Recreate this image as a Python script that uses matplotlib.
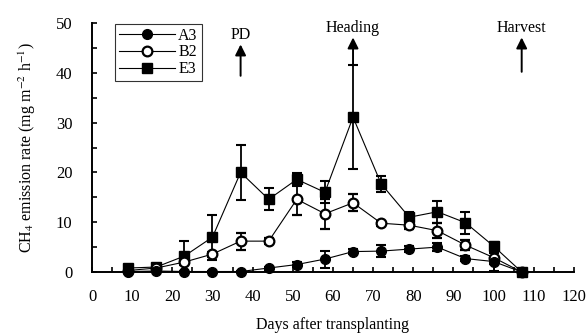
import matplotlib
matplotlib.use("Agg")
import matplotlib.pyplot as plt
from matplotlib.ticker import MultipleLocator
from matplotlib.lines import Line2D

days = [9, 16, 23, 30, 37, 44, 51, 58, 65, 72, 79, 86, 93, 100, 107]
a3 = [0.1, 0.2, 0.1, 0.1, 0.1, 0.8, 1.5, 2.6, 4.1, 4.2, 4.6, 5.0, 2.7, 2.1, 0.0]
a3_err = [0.1, 0.1, 0.1, 0.1, 0.1, 0.3, 0.5, 1.7, 0.5, 1.2, 0.6, 0.8, 0.5, 1.8, 0.0]
b2 = [0.3, 0.8, 2.0, 3.6, 6.2, 6.2, 14.6, 11.7, 13.9, 9.8, 9.4, 8.3, 5.4, 2.9, 0.0]
b2_err = [0.2, 0.2, 0.5, 0.5, 1.7, 0.6, 3.2, 3.0, 1.7, 0.5, 0.8, 1.5, 1.0, 1.2, 0.0]
e3 = [0.8, 1.0, 3.2, 7.0, 20.0, 14.6, 18.6, 16.0, 31.1, 17.7, 11.0, 12.1, 9.9, 5.2, 0.0]
e3_err = [0.3, 0.3, 3.0, 4.5, 5.6, 2.2, 1.3, 2.2, 10.5, 1.6, 1.0, 2.2, 2.2, 0.8, 0.0]

events = ["PD", "Heading", "Harvest"]
event_days = [37, 65, 107]
event_tail = [39.4, 41.5, 40.2]
event_head = [45.7, 47.1, 47.1]

plt.rcParams['font.family'] = ['Liberation Serif', 'DejaVu Serif']
plt.rcParams['mathtext.fontset'] = 'stix'
FS = 11.5

fig = plt.figure(figsize=(5.88, 3.34), dpi=100)
ax = fig.add_axes([0.1565, 0.1856, 0.8195, 0.7455])

common = dict(color='black', lw=0.8, elinewidth=1.3, capsize=3.5, capthick=1.5,
              clip_on=False, markersize=7)
ax.errorbar(days, e3, yerr=e3_err, fmt='-s', mfc='black', mec='black', **common)
ax.errorbar(days, b2, yerr=b2_err, fmt='-o', mfc='white', mec='black', mew=1.6, **common)
ax.errorbar(days, a3, yerr=a3_err, fmt='-o', mfc='black', mec='black', **common)

for lab, d, t, h in zip(events, event_days, event_tail, event_head):
    ax.annotate('', xy=(d, h), xytext=(d, t),
                arrowprops=dict(arrowstyle='-|>', lw=1.4, color='black',
                                mutation_scale=16, shrinkA=0, shrinkB=0),
                annotation_clip=False)
    ax.text(d, h + 0.3, lab, ha='center', va='bottom', fontsize=FS)

ax.set_xlim(0, 120)
ax.set_ylim(0, 50)
ax.xaxis.set_major_locator(MultipleLocator(10))
ax.xaxis.set_minor_locator(MultipleLocator(5))
ax.yaxis.set_major_locator(MultipleLocator(10))
ax.yaxis.set_minor_locator(MultipleLocator(5))
ax.tick_params(which='both', direction='in', length=3.5, width=1.2, labelsize=12)
ax.tick_params(axis='x', pad=12)
ax.tick_params(axis='y', pad=14)
for s in ['top', 'right']:
    ax.spines[s].set_visible(False)
for s in ['left', 'bottom']:
    ax.spines[s].set_linewidth(1.4)

ax.set_xlabel('Days after transplanting', fontsize=FS, labelpad=9)
ax.set_ylabel(r'CH$_4$ emission rate (mg m$^{-2}$ h$^{-1}$)', fontsize=FS, labelpad=13)

handles = [
    Line2D([], [], color='black', lw=0.8, marker='o', mfc='black', mec='black', markersize=7),
    Line2D([], [], color='black', lw=0.8, marker='o', mfc='white', mec='black', mew=1.6, markersize=7),
    Line2D([], [], color='black', lw=0.8, marker='s', mfc='black', mec='black', markersize=7),
]
leg = ax.legend(handles=handles, labels=['A3', 'B2', 'E3'],
                loc='upper left', bbox_to_anchor=(0.048, 0.998), fontsize=FS,
                frameon=True, fancybox=False, edgecolor='black', handlelength=3.5,
                borderpad=0.25, labelspacing=0.05, handletextpad=0.2, borderaxespad=0)
leg.get_frame().set_linewidth(0.8)

fig.savefig('out.png', dpi=100)
